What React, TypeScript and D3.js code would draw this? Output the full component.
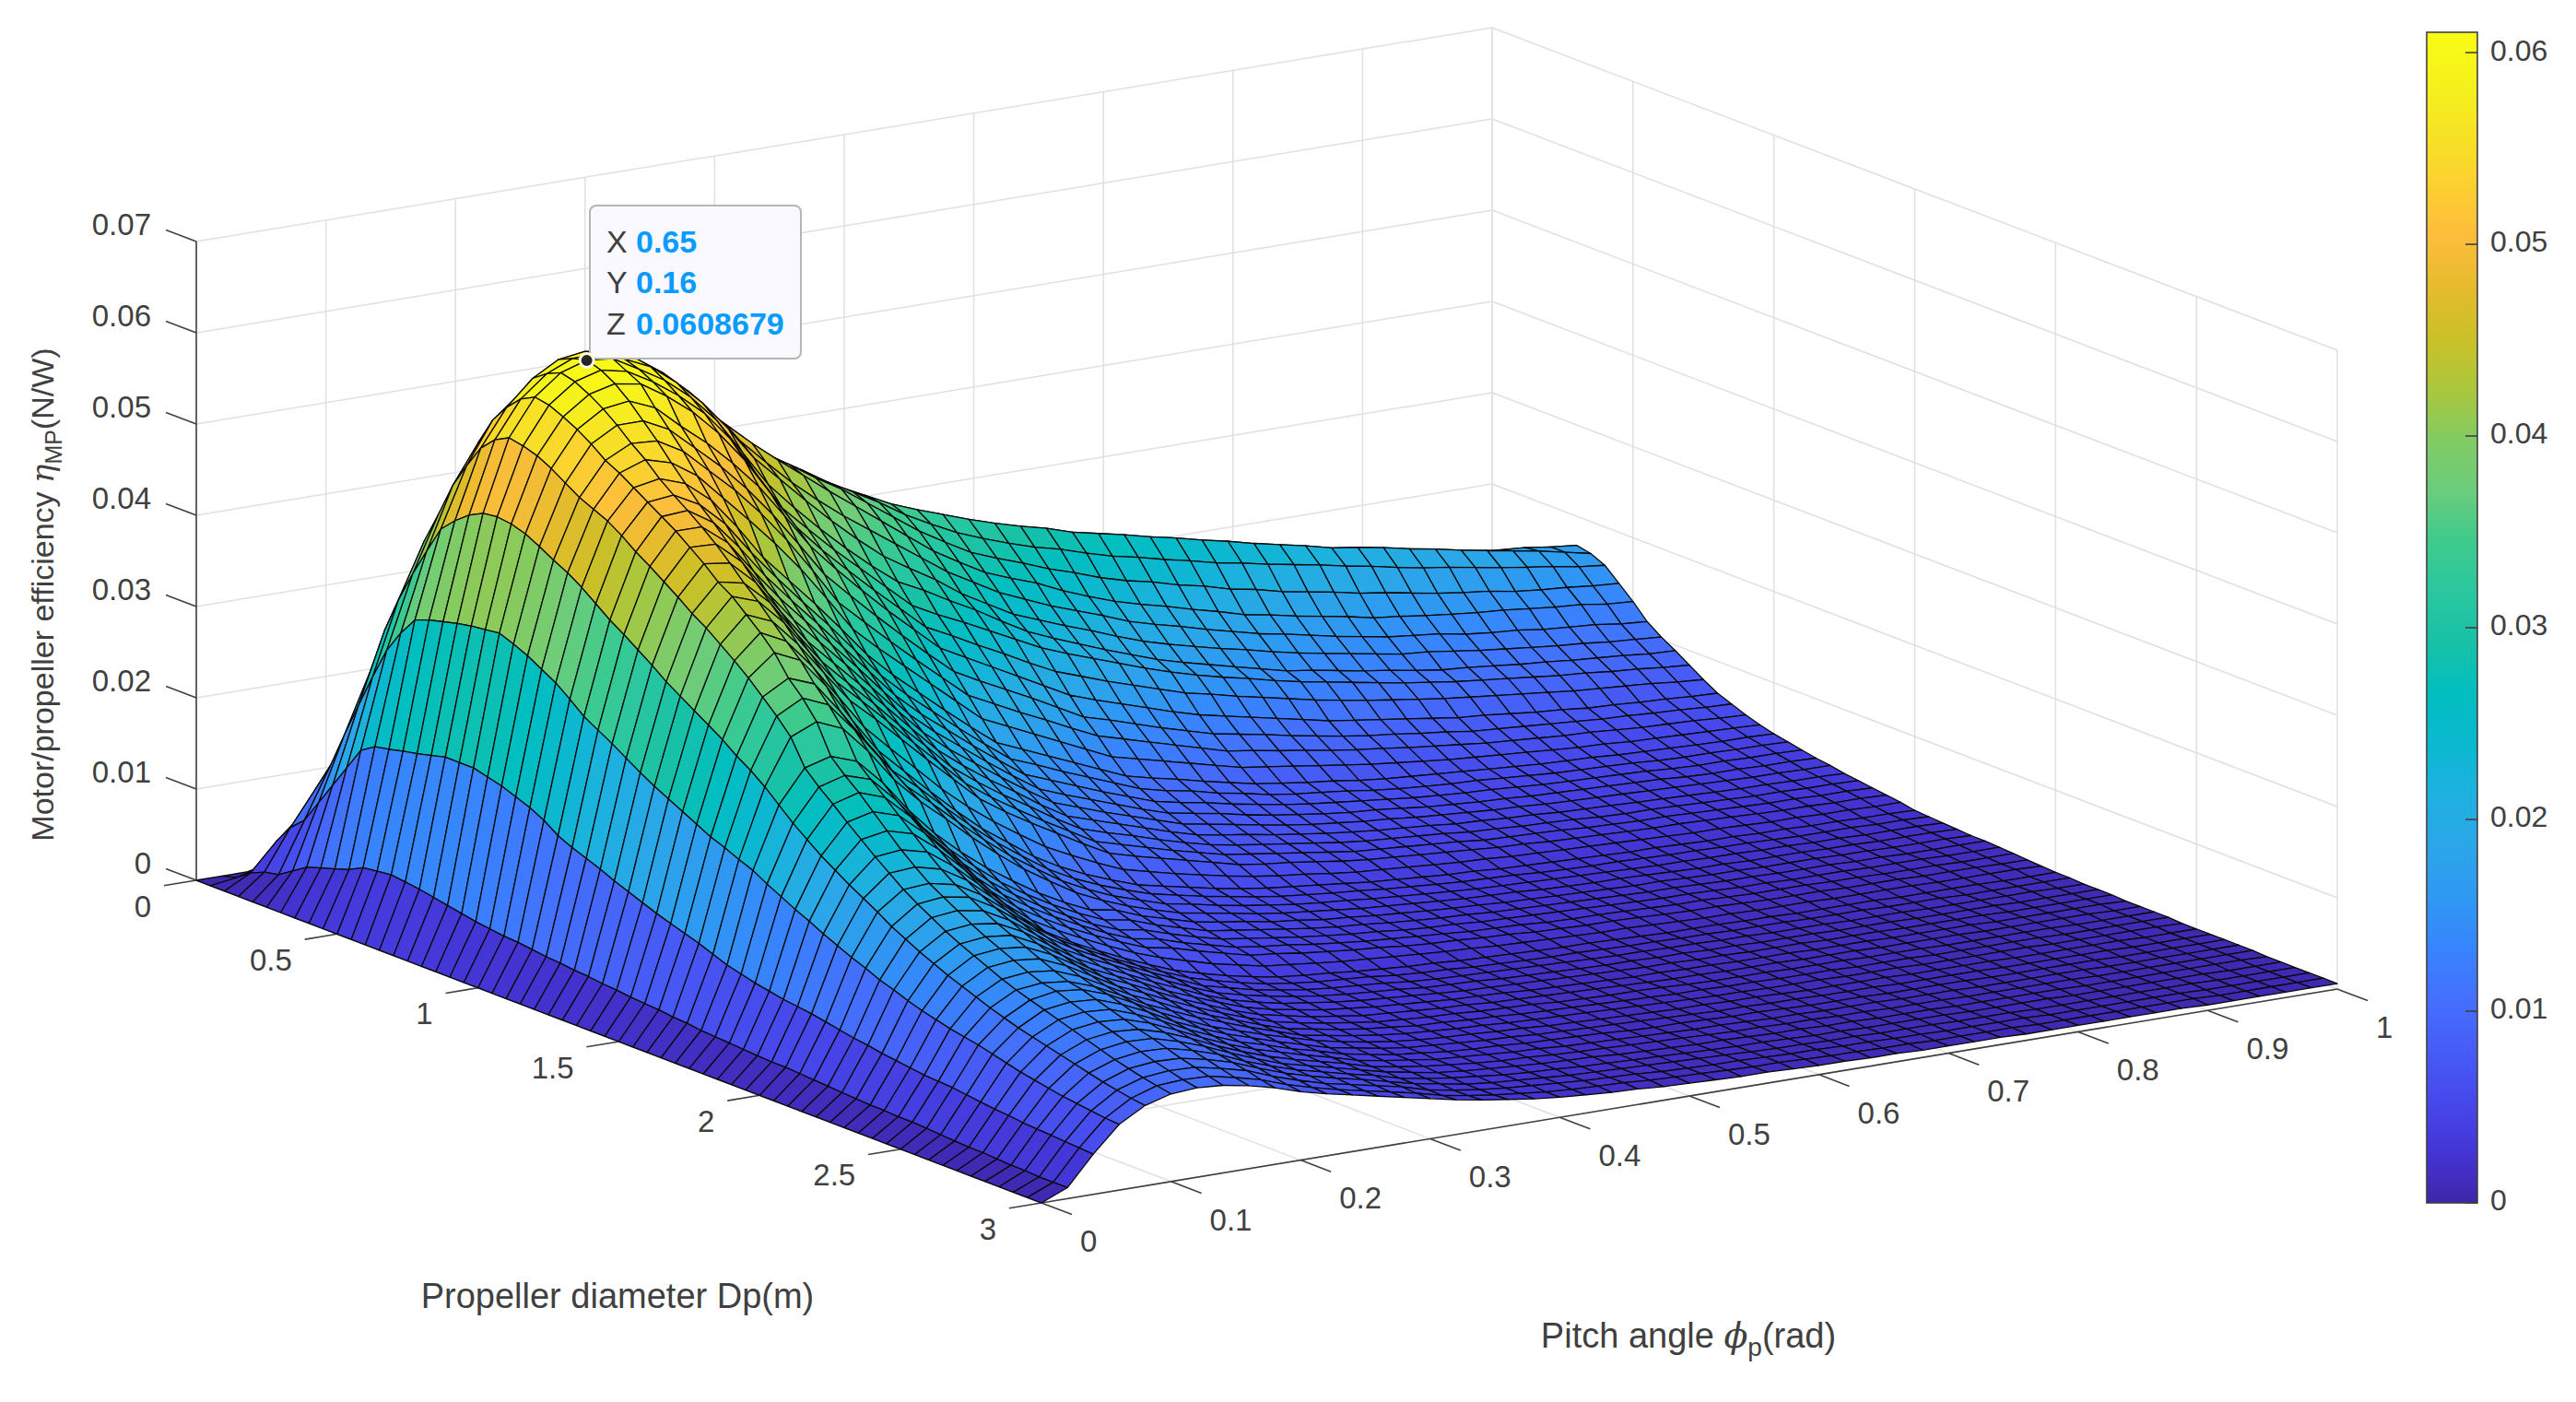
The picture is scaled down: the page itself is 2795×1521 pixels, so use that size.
import { useRef, useEffect } from 'react';
import * as d3 from 'd3';

// Axis ticks
const diameterTicks = [0, 0.5, 1, 1.5, 2, 2.5, 3];
const pitchTicks = [0, 0.1, 0.2, 0.3, 0.4, 0.5, 0.6, 0.7, 0.8, 0.9, 1];
const effTicks = [0, 0.01, 0.02, 0.03, 0.04, 0.05, 0.06, 0.07];
const barTicks = [0, 0.01, 0.02, 0.03, 0.04, 0.05, 0.06];

// Efficiency, in 1e-4 N/W. One list per diameter (step 0.05 m),
// each with 51 values for pitch 0 .. 1 rad (step 0.02).
const z000 = [0,0,0,0,0,0,0,0,0,0,0,0,0,0,0,0,0,0,0,0,0,0,0,0,0,0,0,0,0,0,0,0,0,0,0,0,0,0,0,0,0,0,0,0,0,0,0,0,0,0,0];
const z005 = [0, 4,12,20,26,30,32,33,34,35,36, 36,36,36,36,36,36,36,35,35,34, 34,33,33,32,30,30,29,28,28,27, 26,26,25,25,24,24,23,23,22,21, 21,20,20,19,18,18,17,16,16,15];
const z010 = [0, 15,45,70,90,105,115,120,125,128,130, 130,129,128,127,125,124,123,122,120,118, 117,116,114,112,110,108,105,103,100,97, 95,93,90,88,85,83,81,79,76,74, 72,70,68,66,64,62,60,58,57,55];
const z015 = [0, 22,66,105,145,170,185,195,205,208,210, 210,210,209,207,205,204,202,200,198,195, 192,190,187,184,180,176,172,168,164,160, 155,150,145,140,135,131,127,123,119,115, 112,109,106,103,100,97,94,91,88,85];
const z020 = [0, 25,80,135,185,220,245,260,270,275,275, 275,274,272,269,265,262,258,254,250,245, 241,237,233,229,225,219,213,207,201,195, 190,185,180,175,170,166,162,158,154,150, 146,142,138,134,130,127,124,121,118,115];
const z025 = [0, 35,105,175,240,290,320,340,350,355,355, 355,353,350,345,340,335,330,326,320,315, 303,291,280,271,263,255,248,241,235,228, 222,217,211,206,200,195,189,183,178,172, 170,167,163,161,159,155,153,151,147,145];
const z030 = [0, 45,130,213,290,348,380,400,410,415,415, 415,413,408,400,390,385,380,375,367,360, 346,332,318,308,299,290,282,274,267,259, 253,248,242,237,231,225,218,212,206,199, 196,192,188,185,182,179,177,175,171,168];
const z035 = [0, 50,155,250,330,390,430,455,470,475,478, 478,475,468,455,440,430,420,410,400,390, 374,360,346,335,325,315,306,298,291,282, 276,270,263,257,250,244,237,231,225,218, 214,209,203,198,192,187,182,177,171,165];
const z040 = [0, 55,180,285,364,425,468,495,512,520,522, 520,515,505,490,470,455,440,425,408,390, 374,358,340,325,311,300,290,281,274,265, 257,251,244,238,231,226,220,215,210,204, 199,193,188,184,179,174,170,166,161,158];
const z045 = [0, 60,190,310,395,462,505,535,552,565,568, 562,548,530,508,484,462,442,424,405,388, 368,348,328,311,295,284,274,263,254,244, 236,230,222,216,208,203,196,191,186,180, 176,171,166,162,159,154,151,149,146,144];
const z050 = [0, 68,193,330,425,490,535,558,578,587,585, 574,558,537,513,488,463,440,418,396,375, 354,333,312,295,279,268,258,245,234,224, 216,209,201,194,186,181,175,170,165,159, 156,152,149,146,144,141,138,136,132,130];
const z055 = [0, 70,197,336,440,515,555,582,598,602,598, 585,565,540,508,476,448,421,397,375,355, 335,315,295,279,263,251,239,229,219,208, 200,193,185,178,171,166,160,154,149,144, 141,138,133,130,128,124,122,120,116,114];
const z060 = [0, 72,200,340,452,530,570,593,605,606,595, 582,560,533,500,463,435,407,380,355,332, 314,297,277,261,245,234,223,213,202,192, 184,177,170,164,157,151,146,141,136,131, 129,125,121,118,115,112,110,107,105,103];
const z065 = [0, 70,204,344,460,538,578,600,609,606,590, 573,550,520,480,440,410,382,356,332,310, 296,280,265,248,232,220,209,198,188,178, 170,163,156,149,142,138,133,128,124,119, 115,113,110,107,105,102,100,98,95,94];
const z070 = [0, 68,208,347,462,535,575,596,604,598,582, 562,538,505,462,420,392,365,340,315,290, 275,262,248,234,220,209,199,189,179,170, 162,155,149,142,136,131,126,121,116,112, 108,105,102,99,96,94,91,89,86,84];
const z075 = [0, 65,208,349,460,530,568,588,595,590,572, 550,522,488,447,405,375,348,322,297,272, 258,243,229,214,200,190,180,171,162,153, 147,140,134,128,122,117,112,108,104,100, 97,94,91,88,85,83,81,79,76,74];
const z080 = [0, 62,208,351,455,522,560,578,582,570,545, 522,495,465,428,390,360,332,305,280,255, 240,225,210,195,180,170,161,152,143,135, 129,123,117,111,105,101,97,93,89,85, 83,80,77,75,72,71,69,68,66,65];
const z085 = [0, 59,204,345,447,512,550,566,566,552,527, 502,473,440,403,365,337,310,284,259,235, 220,206,192,177,162,154,145,136,128,120, 115,110,104,99,94,90,87,83,80,76, 74,72,70,68,66,65,63,62,60,59];
const z090 = [0, 56,200,338,438,502,538,552,550,534,508, 482,452,418,380,340,314,288,263,239,215, 201,187,174,160,147,139,131,123,115,107, 103,98,94,89,85,82,78,75,72,69, 67,65,63,62,60,58,57,56,54,53];
const z095 = [0, 54,194,329,430,495,530,540,532,513,484, 455,425,392,355,317,291,267,243,219,195, 182,169,156,143,130,123,116,109,102,95, 91,87,83,79,75,72,69,66,64,62, 60,58,56,55,53,52,51,50,49,48];
const z100 = [0, 52,188,320,420,488,520,525,515,492,458, 420,390,360,328,295,268,244,220,197,175, 163,151,139,127,115,108,102,95,89,83, 79,75,72,68,65,63,61,59,57,55, 53,52,51,49,48,47,46,45,45,44];
const z105 = [0, 51,180,308,408,478,510,513,498,472,436, 403,372,342,310,278,252,229,206,184,163, 152,140,129,118,107,100,95,88,83,77, 73,70,67,63,60,58,56,55,53,51, 49,48,47,46,44,43,43,42,42,41];
const z110 = [0, 49,169,295,396,466,500,502,484,452,416, 385,355,324,293,262,237,215,193,172,152, 141,130,119,109,99,93,88,82,77,72, 68,65,62,59,56,54,52,51,49,47, 46,45,44,43,41,40,40,39,39,38];
const z115 = [0, 47,162,286,386,456,490,490,468,432,398, 368,338,308,277,247,223,202,181,161,142, 131,121,111,101,92,87,82,76,71,67, 63,60,58,55,52,50,48,47,45,44, 43,42,41,40,38,37,37,36,36,35];
const z120 = [0, 46,156,277,375,445,478,477,453,414,380, 351,322,292,262,233,210,190,170,151,133, 123,113,104,95,86,81,76,71,66,62, 59,56,54,51,49,47,45,44,42,41, 40,39,38,37,36,35,34,34,33,33];
const z125 = [0, 44,150,267,364,434,466,462,436,398,362, 334,306,277,248,220,198,178,160,141,124, 115,106,97,88,80,75,71,66,62,58, 55,52,50,48,45,44,42,41,39,38, 37,36,35,34,33,32,32,31,31,30];
const z130 = [0, 43,143,257,352,422,452,446,420,382,346, 318,291,262,235,207,186,167,150,132,116, 107,99,90,82,75,70,66,62,58,54, 51,49,47,45,42,41,39,38,37,35, 34,34,33,32,31,30,30,29,29,28];
const z135 = [0, 41,137,248,342,412,442,432,404,366,330, 304,277,249,222,195,175,157,140,124,108, 100,92,84,77,70,66,62,58,54,50, 48,46,44,42,39,38,37,36,34,33, 32,32,31,30,29,28,28,27,27,26];
const z140 = [0, 40,131,240,332,400,428,416,386,350,315, 290,263,236,210,184,165,148,132,116,101, 93,86,79,72,65,61,58,54,50,47, 45,43,41,39,37,36,34,33,32,31, 30,30,29,28,27,26,26,25,25,24];
const z145 = [0, 38,125,232,322,388,414,400,368,330,292, 264,237,210,186,165,146,128,114,101,89, 82,75,69,63,58,54,51,47,44,42, 40,38,36,35,33,32,31,30,29,28, 27,26,26,25,24,24,23,23,22,22];
const z150 = [0, 37,120,224,312,375,398,385,352,310,272, 245,218,192,168,148,128,112,99,88,78, 72,66,60,55,51,48,45,42,39,37, 35,33,32,30,29,28,27,26,25,25, 24,23,23,22,22,21,21,20,20,19];
const z155 = [0, 36,115,216,300,360,376,365,330,292,256, 233,207,182,159,139,120,105,93,83,74, 68,62,57,52,48,45,42,40,37,35, 33,31,30,29,27,26,25,25,24,23, 23,22,22,21,20,20,20,19,19,18];
const z160 = [0, 34,110,210,290,345,360,348,316,280,245, 221,196,172,150,131,113,99,87,78,69, 64,58,53,49,45,42,40,37,35,33, 31,29,28,27,26,25,24,23,22,22, 21,21,20,20,19,19,18,18,18,17];
const z165 = [0, 33,104,203,278,328,340,328,298,262,234, 210,185,162,141,123,106,93,82,73,65, 60,55,50,46,43,40,37,35,33,31, 29,28,27,25,24,23,23,22,21,20, 20,19,19,19,18,18,17,17,17,16];
const z170 = [0, 31,98,197,264,300,308,298,270,235,205, 180,158,139,121,106,93,88,77,69,61, 56,52,47,44,40,38,35,33,31,29, 28,26,25,24,23,22,21,21,20,19, 19,18,18,18,17,17,16,16,16,15];
const z175 = [0, 30,94,188,250,285,293,284,256,222,194, 170,148,130,114,100,88,83,73,65,57, 53,49,45,41,38,36,33,31,29,28, 26,25,24,23,22,21,20,20,19,18, 18,17,17,17,16,16,15,15,15,15];
const z180 = [0, 29,90,180,238,272,280,270,244,212,184, 160,140,123,108,94,83,78,69,61,54, 50,46,42,39,36,34,31,29,28,26, 25,24,23,22,21,20,19,19,18,17, 17,16,16,16,15,15,15,14,14,14];
const z185 = [0, 28,87,172,226,258,265,256,232,203,174, 151,133,117,103,90,79,74,65,58,51, 47,44,40,37,34,32,30,28,26,25, 24,22,21,21,20,19,18,18,17,16, 16,16,15,15,14,14,14,13,13,13];
const z190 = [0, 27,84,165,216,245,250,242,220,193,165, 143,126,111,98,86,75,70,62,55,48, 45,41,38,35,33,30,28,27,25,24, 22,21,20,20,19,18,17,17,16,15, 15,15,14,14,14,13,13,13,12,12];
const z195 = [0, 26,82,157,206,232,235,228,208,183,157, 135,119,105,92,80,70,62,54,48,42, 39,36,33,31,29,27,25,24,22,21, 20,19,18,18,17,16,15,15,14,14, 14,13,13,13,13,12,12,12,12,11];
const z200 = [0, 26,80,150,197,220,222,215,198,174,150, 128,112,98,85,73,62,54,47,41,36, 33,31,28,26,24,23,21,20,19,18, 17,17,16,15,14,14,14,13,13,12, 12,12,12,11,11,11,11,10,10,10];
const z205 = [0, 25,77,143,188,208,210,204,188,166,144, 125,110,96,83,71,60,52,45,39,35, 32,30,28,25,23,22,20,19,18,17, 17,16,15,15,14,14,13,13,13,12, 12,12,11,11,11,10,10,10,10,10];
const z210 = [0, 24,74,137,178,198,201,196,180,159,138, 121,107,94,81,69,57,50,43,38,34, 31,29,27,24,22,21,20,19,18,17, 16,15,15,14,14,13,13,12,12,12, 11,11,11,10,10,10,10,10,9,9];
const z215 = [0, 23,71,130,170,189,192,187,172,152,132, 117,104,91,78,66,55,48,42,37,33, 30,28,26,23,22,21,19,18,17,16, 15,15,14,14,13,13,12,12,12,11, 11,11,10,10,10,10,9,9,9,9];
const z220 = [0, 22,69,125,162,180,183,179,165,146,127, 113,100,87,75,63,53,46,40,36,32, 29,27,25,23,21,20,19,18,17,16, 15,14,14,13,13,12,12,12,11,11, 11,10,10,10,10,9,9,9,9,9];
const z225 = [0, 21,66,119,155,172,175,172,158,140,122, 109,97,83,72,61,51,44,39,34,31, 28,26,24,22,21,20,18,17,16,15, 14,14,13,13,12,12,12,11,11,11, 10,10,10,10,9,9,9,9,9,8];
const z230 = [0, 20,64,114,148,165,168,165,152,135,118, 106,93,80,69,58,49,43,37,33,29, 27,25,23,22,20,19,18,17,16,15, 14,13,13,12,12,12,11,11,11,10, 10,10,10,9,9,9,9,9,8,8];
const z235 = [0, 20,62,110,142,158,161,158,146,130,114, 102,89,77,66,56,47,41,36,32,28, 26,24,23,21,20,19,17,16,15,15, 14,13,12,12,12,11,11,11,10,10, 10,9,9,9,9,9,8,8,8,8];
const z240 = [0, 19,60,106,136,151,154,151,140,125,110, 98,85,74,64,54,45,40,35,31,28, 25,24,22,21,19,18,17,16,15,14, 13,13,12,12,11,11,11,10,10,10, 9,9,9,9,9,8,8,8,8,8];
const z245 = [0, 19,59,103,130,145,148,145,135,121,106, 94,82,72,62,53,44,39,34,30,27, 25,23,22,20,19,18,17,16,15,14, 13,12,12,11,11,11,10,10,10,9, 9,9,9,9,8,8,8,8,8,7];
const z250 = [0, 18,58,100,125,140,145,142,132,118,103, 90,78,69,60,52,44,38,33,29,26, 24,23,21,20,18,17,16,15,14,13, 13,12,12,11,10,10,10,10,9,9, 9,9,8,8,8,8,8,7,7,7];
const z255 = [0, 17,56,96,120,135,139,137,127,114,99, 87,76,67,58,50,42,37,32,28,26, 24,22,21,19,18,17,16,15,14,13, 12,12,11,11,10,10,10,9,9,9, 9,8,8,8,8,8,7,7,7,7];
const z260 = [0, 16,54,92,116,130,134,132,122,110,96, 84,73,65,56,49,41,36,31,28,25, 23,22,20,19,18,17,15,14,14,13, 12,12,11,10,10,10,9,9,9,9, 8,8,8,8,8,7,7,7,7,7];
const z265 = [0, 15,52,88,112,125,129,127,118,106,93, 81,71,63,55,48,40,35,31,27,25, 23,21,20,18,17,16,15,14,13,13, 12,11,11,10,10,10,9,9,9,8, 8,8,8,8,7,7,7,7,7,7];
const z270 = [0, 15,51,85,108,120,124,122,114,103,90, 79,69,61,54,47,39,34,30,27,24, 22,21,19,18,17,16,15,14,13,12, 12,11,11,10,10,9,9,9,8,8, 8,8,8,7,7,7,7,7,7,7];
const z275 = [0, 14,49,82,104,115,119,118,110,100,88, 77,67,60,53,46,39,34,29,26,24, 22,20,19,18,16,15,14,13,13,12, 11,11,10,10,9,9,9,8,8,8, 8,8,7,7,7,7,7,7,7,6];
const z280 = [0, 13,48,79,100,110,114,113,106,97,85, 75,66,59,52,46,38,33,29,26,23, 21,20,18,17,16,15,14,13,12,12, 11,10,10,9,9,9,9,8,8,8, 8,7,7,7,7,7,7,6,6,6];
const z285 = [0, 13,47,77,96,106,109,108,102,94,83, 73,65,58,52,45,38,33,28,25,23, 21,19,18,17,16,15,14,13,12,11, 11,10,10,9,9,9,8,8,8,7, 7,7,7,7,7,7,6,6,6,6];
const z290 = [0, 12,46,75,93,102,105,104,98,91,80, 71,63,57,51,45,37,32,28,25,23, 21,19,18,17,15,14,13,13,12,11, 11,10,10,9,9,8,8,8,8,7, 7,7,7,7,7,6,6,6,6,6];
const z295 = [0, 12,45,73,90,99,101,100,94,87,77, 69,62,56,50,44,37,32,28,25,22, 20,19,18,16,15,14,13,12,12,11, 10,10,9,9,8,8,8,8,7,7, 7,7,7,7,7,6,6,6,6,6];
const z300 = [0, 12,44,72,88,96,98,96,91,84,75, 68,62,56,50,44,38,33,29,25,22, 20,18,17,15,14,13,12,12,11,10, 10,9,9,8,8,8,8,7,7,7, 7,7,7,7,6,6,6,6,6,6];

const effGrid = [z000, z005, z010, z015, z020, z025, z030, z035, z040, z045, z050, z055, z060, z065, z070, z075, z080, z085, z090, z095, z100,
  z105, z110, z115, z120, z125, z130, z135, z140, z145, z150, z155, z160, z165, z170, z175, z180, z185, z190, z195, z200,
  z205, z210, z215, z220, z225, z230, z235, z240, z245, z250, z255, z260, z265, z270, z275, z280, z285, z290, z295, z300];

const diameterStep = 0.05;
const pitchStep = 0.02;
const effUnit = 1e-4;

// Data tip values
const tipX = 0.65;
const tipY = 0.16;
const tipZ = 0.0608679;

// parula
const parula = ['#3e26a8', '#4435d5', '#4748eb', '#475cf6', '#4470fd', '#3884fe', '#2f99f2', '#2ba6e8', '#1fb0e0', '#0bb8cf', '#01bec0',
  '#18c1a6', '#2ac7a0', '#3ecb8c', '#6ccc7c', '#82cb63', '#abc73c', '#cbc027', '#e6bb2d', '#fdbd3c', '#fcd030', '#f7e225', '#f5f21b', '#f9fb14'];

const FONT = '"Liberation Sans", Arial, sans-serif';
const GREEK = '"DejaVu Serif", "Liberation Serif", serif';
const TEXT = '#404040';

export default function App() {
  const svgRef = useRef<SVGSVGElement>(null);

  useEffect(() => {
    const svg = d3.select(svgRef.current);
    svg.selectAll('*').remove();

    // Orthographic view: each data axis adds a fixed screen offset
    const dx = d3.scaleLinear().domain([0, 3]).range([0, 917]);
    const dy = d3.scaleLinear().domain([0, 3]).range([0, 350]);
    const px = d3.scaleLinear().domain([0, 1]).range([0, 1406]);
    const py = d3.scaleLinear().domain([0, 1]).range([0, -232]);
    const zy = d3.scaleLinear().domain([0, 0.07]).range([0, -693]);
    const project = (d: number, p: number, z: number): [number, number] => [
      213 + dx(d) + px(p),
      955 + dy(d) + py(p) + zy(z),
    ];
    const line = d3.line();

    const seg = (a: [number, number], b: [number, number], stroke: string, w: number) =>
      svg.append('path').attr('d', line([a, b])).attr('stroke', stroke).attr('stroke-width', w).attr('fill', 'none');

    // Grid on the walls and the floor
    const gridColor = '#e0e0e0';
    pitchTicks.forEach(p => {
      seg(project(0, p, 0), project(0, p, 0.07), gridColor, 1.5);
      seg(project(0, p, 0), project(3, p, 0), gridColor, 1.5);
    });
    diameterTicks.forEach(d => {
      seg(project(d, 1, 0), project(d, 1, 0.07), gridColor, 1.5);
      seg(project(d, 0, 0), project(d, 1, 0), gridColor, 1.5);
    });
    effTicks.forEach(z => {
      seg(project(0, 0, z), project(0, 1, z), gridColor, 1.5);
      seg(project(0, 1, z), project(3, 1, z), gridColor, 1.5);
    });

    // Axes and ticks
    const axisColor = '#404040';
    seg(project(0, 0, 0), project(0, 0, 0.07), axisColor, 1.6);
    seg(project(0, 0, 0), project(3, 0, 0), axisColor, 1.6);
    seg(project(3, 0, 0), project(3, 1, 0), axisColor, 1.6);
    effTicks.forEach(z => {
      seg(project(0, 0, z), project(-0.108, 0, z), axisColor, 1.6);
      svg.append('text').attr('x', 164).attr('y', project(0, 0, z)[1] - 16)
        .attr('text-anchor', 'end').attr('dominant-baseline', 'middle')
        .attr('font-family', FONT).attr('font-size', 33).attr('fill', TEXT).text(String(z));
    });
    diameterTicks.forEach(d => {
      const [x, y] = project(d, 0, 0);
      seg([x, y], project(d, -0.025, 0), axisColor, 1.6);
      svg.append('text').attr('x', x - 49).attr('y', y + 31)
        .attr('text-anchor', 'end').attr('dominant-baseline', 'middle')
        .attr('font-family', FONT).attr('font-size', 33).attr('fill', TEXT).text(String(d));
    });
    pitchTicks.forEach(p => {
      const [x, y] = project(3, p, 0);
      seg([x, y], project(3.108, p, 0), axisColor, 1.6);
      svg.append('text').attr('x', x + 42).attr('y', y + 44)
        .attr('text-anchor', 'start').attr('dominant-baseline', 'middle')
        .attr('font-family', FONT).attr('font-size', 33).attr('fill', TEXT).text(String(p));
    });

    // Surface, painted from the far corner to the near one
    const color = d3.scaleLinear<string>()
      .domain(parula.map((_, i) => (i / (parula.length - 1)) * 0.0609))
      .range(parula)
      .clamp(true);
    const surface = svg.append('g');
    const nodeZ = (i: number, j: number) => effGrid[i][j] * effUnit;
    for (let i = 0; i < effGrid.length - 1; i++) {
      for (let j = z000.length - 2; j >= 0; j--) {
        const corners: [number, number][] = [[i, j], [i + 1, j], [i + 1, j + 1], [i, j + 1]];
        const pts = corners.map(([a, b]) => project(a * diameterStep, b * pitchStep, nodeZ(a, b)));
        const mean = d3.mean(corners, ([a, b]) => nodeZ(a, b)) as number;
        surface.append('path')
          .attr('d', line(pts) + 'Z')
          .attr('fill', color(mean))
          .attr('stroke', '#0a0a0a')
          .attr('stroke-width', 1.3)
          .attr('stroke-linejoin', 'round');
      }
    }

    // Axis titles
    svg.append('text').attr('x', 670).attr('y', 1419).attr('text-anchor', 'middle')
      .attr('font-family', FONT).attr('font-size', 38).attr('fill', TEXT).text('Propeller diameter Dp(m)');

    const pitchTitle = svg.append('text').attr('x', 1832).attr('y', 1462).attr('text-anchor', 'middle')
      .attr('font-family', FONT).attr('font-size', 38).attr('fill', TEXT);
    pitchTitle.append('tspan').text('Pitch angle ');
    pitchTitle.append('tspan').attr('font-family', GREEK).attr('font-style', 'italic').text('ϕ');
    pitchTitle.append('tspan').attr('font-size', 28).attr('dy', 9).text('p');
    pitchTitle.append('tspan').attr('dy', -9).text('(rad)');

    const effTitle = svg.append('text').attr('transform', 'translate(58,645) rotate(-90)').attr('text-anchor', 'middle')
      .attr('font-family', FONT).attr('font-size', 34).attr('fill', TEXT);
    effTitle.append('tspan').text('Motor/propeller efficiency ');
    effTitle.append('tspan').attr('font-family', GREEK).attr('font-style', 'italic').text('η');
    effTitle.append('tspan').attr('font-size', 25).attr('dy', 9).text('MP');
    effTitle.append('tspan').attr('dy', -9).text('(N/W)');

    // Colorbar
    const barY = d3.scaleLinear().domain([0, 0.06106]).range([1305, 35]);
    const defs = svg.append('defs');
    const grad = defs.append('linearGradient').attr('id', 'bar').attr('x1', 0).attr('y1', 1).attr('x2', 0).attr('y2', 0);
    parula.forEach((c, i) => grad.append('stop').attr('offset', i / (parula.length - 1)).attr('stop-color', c));
    svg.append('rect').attr('x', 2633).attr('y', barY(0.06106)).attr('width', 55)
      .attr('height', barY(0) - barY(0.06106)).attr('fill', 'url(#bar)').attr('stroke', '#404040').attr('stroke-width', 1.6);
    barTicks.forEach(t => {
      seg([2675, barY(t)], [2688, barY(t)], '#404040', 1.6);
      svg.append('text').attr('x', 2702).attr('y', barY(t)).attr('dominant-baseline', 'middle')
        .attr('font-family', FONT).attr('font-size', 32).attr('fill', TEXT).text(String(t));
    });

    // Data tip
    const [tx, ty] = project(tipX, tipY, tipZ);
    svg.append('rect').attr('x', 640).attr('y', 223).attr('width', 229).attr('height', 166).attr('rx', 7)
      .attr('fill', '#f9f9ff').attr('stroke', '#b5b5b5').attr('stroke-width', 2);
    svg.append('circle').attr('cx', tx).attr('cy', ty).attr('r', 7.5)
      .attr('fill', '#262626').attr('stroke', '#fffbe0').attr('stroke-width', 3);
    [['X', String(tipX), 274], ['Y', String(tipY), 318], ['Z', String(tipZ), 363]].forEach(([k, v, y]) => {
      svg.append('text').attr('x', 658).attr('y', y).attr('font-family', FONT).attr('font-size', 34).attr('fill', TEXT).text(k);
      svg.append('text').attr('x', 690).attr('y', y).attr('font-family', FONT).attr('font-size', 34)
        .attr('font-weight', 'bold').attr('fill', '#0a9bff').text(v);
    });
  }, []);

  return <svg ref={svgRef} width={2795} height={1521} style={{ position: 'absolute', left: 0, top: 0, display: 'block', background: '#fff' }} />;
}
